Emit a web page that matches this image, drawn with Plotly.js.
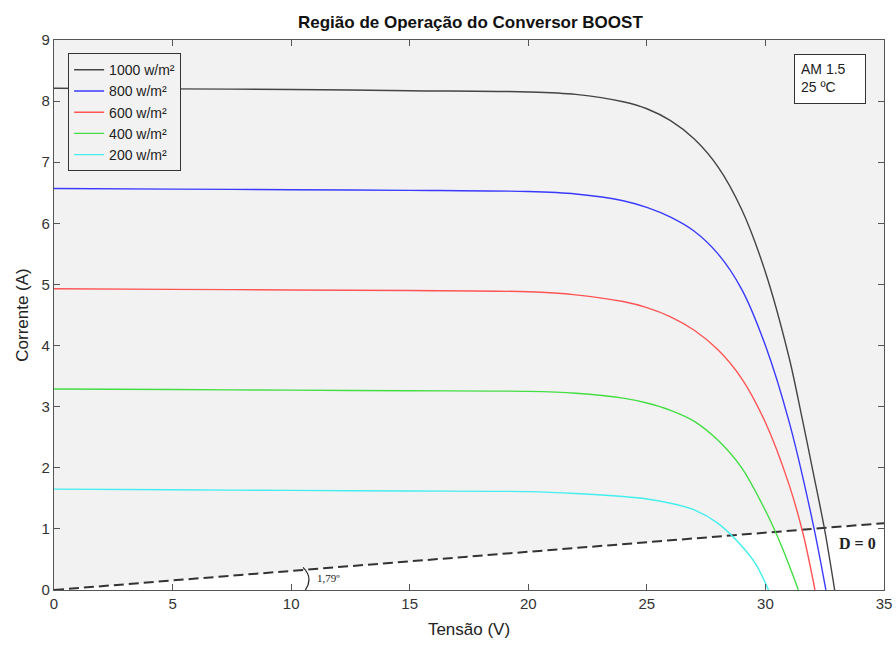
<!DOCTYPE html>
<html><head><meta charset="utf-8">
<script src="https://cdn.plot.ly/plotly-3.0.1.min.js"></script>
<style>html,body{margin:0;padding:0;background:#fff}#c{width:896px;height:648px}</style>
</head><body><div id="c"></div>
<script>
// Data
const v1000 = [0, 5, 10, 15, 20, 22, 24, 25, 26, 27, 28, 29, 30, 31, 31.5, 32, 32.5, 32.92];
const i1000 = [8.21, 8.2, 8.19, 8.17, 8.15, 8.11, 7.99, 7.875, 7.68, 7.38, 6.925, 6.225, 5.2, 3.8, 2.9, 1.95, 0.98, 0];
const v800 = [0, 5, 10, 15, 20, 22, 24, 25, 26, 27, 28, 29, 30, 31, 32, 32.55];
const i800 = [6.57, 6.56, 6.55, 6.54, 6.52, 6.48, 6.37, 6.26, 6.1, 5.87, 5.5, 4.92, 4.0, 2.75, 1.1, 0];
const v600 = [0, 5, 10, 15, 20, 22, 24, 25, 26, 27, 28, 29, 30, 31, 31.6, 32.09];
const i600 = [4.93, 4.92, 4.91, 4.9, 4.88, 4.83, 4.72, 4.62, 4.47, 4.25, 3.93, 3.46, 2.74, 1.72, 0.9, 0];
const v400 = [0, 5, 10, 15, 20, 22, 24, 25, 26, 27, 28, 29, 30, 30.7, 31.39];
const i400 = [3.29, 3.28, 3.27, 3.26, 3.25, 3.22, 3.14, 3.06, 2.94, 2.76, 2.45, 2.0, 1.3, 0.7, 0];
const v200 = [0, 5, 10, 15, 20, 22, 24, 25, 26, 27, 28, 29, 29.6, 30.13];
const i200 = [1.65, 1.64, 1.63, 1.62, 1.61, 1.58, 1.53, 1.49, 1.42, 1.31, 1.09, 0.72, 0.42, 0];
const dV = [0, 35];
const dI = [0, 1.094];
const names = ['1000 w/m²', '800 w/m²', '600 w/m²', '400 w/m²', '200 w/m²'];
const colors = ['#444444', '#3a3aff', '#ff5555', '#44dd44', '#44eeee'];
const xTicks = [0, 5, 10, 15, 20, 25, 30, 35];
const yTicks = [0, 1, 2, 3, 4, 5, 6, 7, 8, 9];

const series = [[v1000, i1000], [v800, i800], [v600, i600], [v400, i400], [v200, i200]];
const traces = [{
  x: dV, y: dI, mode: 'lines', fill: 'tozeroy', fillcolor: '#ffffff',
  line: {color: '#333', width: 2, dash: '10px,5px'}, showlegend: false, hoverinfo: 'skip'
}];
series.forEach((s, k) => traces.push({
  x: s[0], y: s[1], mode: 'lines', name: names[k],
  line: {color: colors[k], width: 1.4, shape: 'spline', smoothing: 0.9}
}));

const FF = 'Arial, Liberation Sans, sans-serif';
const tickFont = {family: FF, size: 15, color: '#333'};
const layout = {
  width: 896, height: 648,
  margin: {l: 54, r: 12, t: 40, b: 58},
  paper_bgcolor: '#ffffff', plot_bgcolor: '#f2f2f2',
  title: {text: '<b>Região de Operação do Conversor BOOST</b>', x: 0.525, xanchor: 'center', y: 0.966, yanchor: 'middle',
    font: {family: FF, size: 17, color: '#111'}},
  xaxis: {range: [0, 35], tickvals: xTicks, ticks: 'inside', ticklen: 6, tickcolor: '#555',
    showline: true, mirror: 'ticks', linecolor: '#555', linewidth: 1.2, showgrid: false, zeroline: false,
    tickfont: tickFont,
    title: {text: 'Tensão (V)', font: {family: FF, size: 17, color: '#222'}, standoff: 12}},
  yaxis: {range: [0, 9], tickvals: yTicks, ticks: 'inside', ticklen: 6, tickcolor: '#555',
    showline: true, mirror: 'ticks', linecolor: '#555', linewidth: 1.2, showgrid: false, zeroline: false,
    tickfont: tickFont,
    title: {text: 'Corrente (A)', font: {family: FF, size: 17, color: '#222'}, standoff: 8}},
  legend: {x: 0.017, y: 0.976, xanchor: 'left', yanchor: 'top', bgcolor: '#f2f2f2',
    bordercolor: '#333', borderwidth: 1, font: {family: FF, size: 14, color: '#222'},
    itemwidth: 30, tracegroupgap: 0},
  showlegend: true,
  annotations: [
    {xref: 'paper', yref: 'paper', x: 0.978, y: 0.9745, xanchor: 'right', yanchor: 'top',
      text: 'AM 1.5<br>25 ºC', showarrow: false, align: 'left', valign: 'top', bgcolor: '#ffffff',
      width: 58, height: 36, bordercolor: '#333', borderwidth: 1, borderpad: 6,
      font: {family: FF, size: 14, color: '#222'}},
    {xref: 'x', yref: 'y', x: 33.9, y: 0.76, text: '<b>D = 0</b>', showarrow: false,
      font: {family: 'Liberation Serif, Times New Roman, serif', size: 16, color: '#222'}},
    {xref: 'x', yref: 'y', x: 11.0, y: 0.2, xanchor: 'left', text: '1,79º', showarrow: false,
      font: {family: 'Liberation Serif, Times New Roman, serif', size: 11, color: '#222'}}
  ],
  shapes: [
    {type: 'path', xref: 'x', yref: 'y', path: 'M 10.5,0.37 Q 10.95,0.2 10.6,0',
      line: {color: '#222', width: 1.2}}
  ]
};
Plotly.newPlot('c', traces, layout, {displayModeBar: false});
</script></body></html>
